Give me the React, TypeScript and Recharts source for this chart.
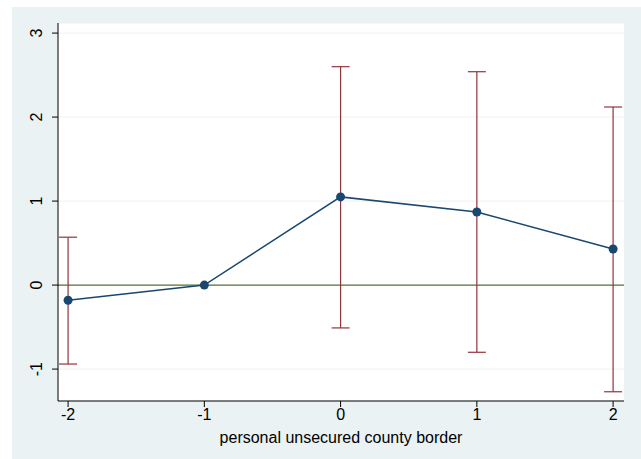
import React from "react";
import {
  ComposedChart,
  Line,
  Scatter,
  ErrorBar,
  XAxis,
  YAxis,
  CartesianGrid,
  ReferenceLine,
} from "recharts";

const periods = [-2, -1, 0, 1, 2];
const estimates = [-0.18, 0, 1.05, 0.87, 0.43];
const ciLow = [-0.94, null, -0.51, -0.8, -1.27];
const ciHigh = [0.57, null, 2.6, 2.54, 2.12];
const yTicks = [-1, 0, 1, 2, 3];

const NAVY = "#1A476F";
const CRANBERRY = "#90353B";
const OLIVE = "#55752F";
const FONT = "'Liberation Sans', Arial, sans-serif";

const lineData = periods.map((p, i) => ({ x: p, y: estimates[i] }));
const ciData = periods
  .map((p, i) => ({ x: p, y: estimates[i], lo: ciLow[i], hi: ciHigh[i] }))
  .filter((d) => d.lo !== null && d.hi !== null)
  .map((d) => ({ x: d.x, y: d.y, err: [d.y - (d.lo as number), (d.hi as number) - d.y] }));

function YTick(props: any) {
  const { x, y, payload } = props;
  const cx = x - 13;
  return (
    <text
      x={cx}
      y={y}
      dy={5}
      transform={`rotate(-90 ${cx} ${y})`}
      textAnchor="middle"
      fontSize={16}
      fontFamily={FONT}
      fill="#000"
    >
      {payload.value}
    </text>
  );
}

export default function App() {
  return (
    <div style={{ position: "absolute", left: 0, top: 0, width: 641, height: 459, background: "#fff" }}>
      <div
        style={{ position: "absolute", left: 12, top: 7, width: 629, height: 452, background: "#EAF2F3" }}
      />
      <div style={{ position: "absolute", left: 0, top: 0 }}>
        <ComposedChart
          width={641}
          height={459}
          data={lineData}
          margin={{ top: 23, right: 17, left: 0, bottom: 0 }}
        >
          <CartesianGrid vertical={false} stroke="#EAF2F3" fill="#fff" />
          <XAxis
            dataKey="x"
            type="number"
            domain={[-2.074, 2.08]}
            ticks={periods}
            height={58}
            stroke="#000"
            tickSize={6}
            tick={{ fontSize: 16, fontFamily: FONT, fill: "#000" }}
            label={{
              value: "personal unsecured county border",
              position: "insideBottom",
              offset: 16,
              fontSize: 16,
              fontFamily: FONT,
              fill: "#000",
            }}
            allowDataOverflow
          />
          <YAxis
            type="number"
            domain={[-1.38, 3.12]}
            ticks={yTicks}
            width={58}
            stroke="#000"
            tickSize={6}
            tick={<YTick />}
            allowDataOverflow
          />
          <ReferenceLine y={0} stroke={OLIVE} strokeWidth={1.2} />
          <Scatter data={ciData} dataKey="y" shape={() => null} isAnimationActive={false}>
            <ErrorBar dataKey="err" direction="y" width={9} stroke={CRANBERRY} strokeWidth={1.2} />
          </Scatter>
          <Line
            dataKey="y"
            stroke={NAVY}
            strokeWidth={1.5}
            dot={{ r: 4.5, fill: NAVY, stroke: NAVY, strokeWidth: 0 }}
            activeDot={false}
            isAnimationActive={false}
          />
        </ComposedChart>
      </div>
    </div>
  );
}
